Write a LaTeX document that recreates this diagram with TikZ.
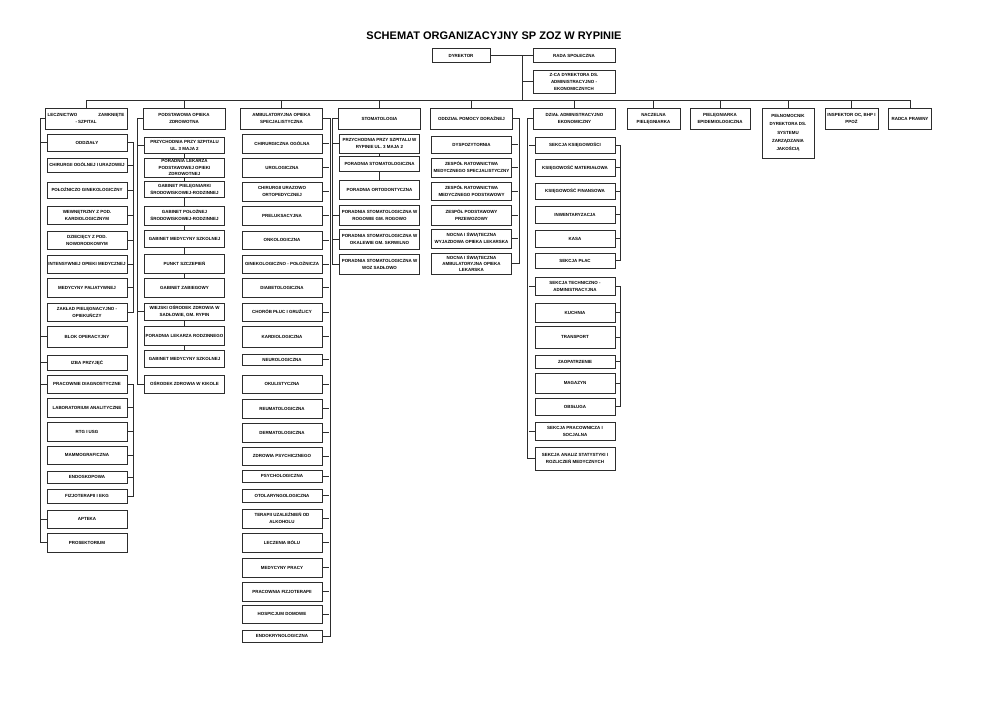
\documentclass[tikz,border=0pt]{standalone}
\usepackage{fontspec}
\setmainfont{Liberation Sans}
\definecolor{frame}{RGB}{45,45,45}

\begin{document}
\begin{tikzpicture}[x=0.3mm, y=-0.3mm,
  every node/.style={font=\fontsize{3.8}{6}\selectfont\bfseries, align=center, inner sep=0.5pt},
  box/.style={draw=frame, line width=0.5pt, minimum width=2.4cm},
  link/.style={draw=frame, line width=0.5pt}]
  \useasboundingbox[fill=white] (0,0) rectangle (992,702);

  % Title and management
  \node[font=\fontsize{9.4}{11}\selectfont\bfseries] (title) at (494,36) {SCHEMAT ORGANIZACYJNY SP ZOZ W RYPINIE};
  \node[box, minimum width=1.74cm, minimum height=4.2mm] (dyr) at (461,55.5) {DYREKTOR};
  \node[box, minimum width=2.46cm, minimum height=4.2mm] (rada) at (574,55.5) {RADA SPOŁECZNA};
  \node[box, minimum width=2.46cm, minimum height=6.9mm] (zca) at (574,81.5) {Z-CA DYREKTORA DS.\\ADMINISTRACYJNO -\\EKONOMICZNYCH};
  \coordinate (trunk) at (522,101);

  % Departments
  \node[box, minimum width=2.46cm, minimum height=6.3mm] (szpital) at (86,118.5) {\makebox[2.3cm]{LECZNICTWO\hfill ZAMKNIĘTE}\\- SZPITAL};
  \node[box, minimum width=2.46cm, minimum height=6.3mm] (poz) at (184,118.5) {PODSTAWOWA OPIEKA\\ZDROWOTNA};
  \node[box, minimum width=2.46cm, minimum height=6.3mm] (aos) at (281.5,118.5) {AMBULATORYJNA OPIEKA\\SPECJALISTYCZNA};
  \node[box, minimum width=2.46cm, minimum height=6.3mm] (stom) at (379.5,118.5) {STOMATOLOGIA};
  \node[box, minimum width=2.46cm, minimum height=6.3mm] (dorazna) at (471.5,118.5) {ODDZIAŁ POMOCY DORAŹNEJ};
  \node[box, minimum width=2.46cm, minimum height=6.3mm] (admin) at (574.5,118.5) {DZIAŁ ADMINISTRACYJNO\\EKONOMICZNY};
  \node[box, minimum width=1.59cm, minimum height=6.3mm] (naczelna) at (653.5,118.5) {NACZELNA\\PIELĘGNIARKA};
  \node[box, minimum width=1.8cm, minimum height=6.3mm] (epid) at (720,118.5) {PIELĘGNIARKA\\EPIDEMIOLOGICZNA};
  \node[box, minimum width=1.56cm, minimum height=15mm, font=\fontsize{3.8}{7.2}\selectfont\bfseries] (jakosc) at (788,133) {PEŁNOMOCNIK\\DYREKTORA DS.\\SYSTEMU\\ZARZĄDZANIA\\JAKOŚCIĄ};
  \node[box, minimum width=1.59cm, minimum height=6.3mm] (bhp) at (851.5,118.5) {INSPEKTOR OC, BHP I\\PPOŻ};
  \node[box, minimum width=1.3cm, minimum height=6.3mm] (radca) at (910,118.5) {RADCA PRAWNY};

  % Lecznictwo zamkniete
  \node[box, minimum height=5.1mm] (s1) at (87,142.5) {ODDZIAŁY};
  \node[box, minimum height=4.2mm] (s2) at (87,165) {CHIRURGII OGÓLNEJ I URAZOWEJ};
  \node[box, minimum height=4.8mm] (s3) at (87,190) {POŁOŻNICZO GINEKOLOGICZNY};
  \node[box, minimum height=5.4mm] (s4) at (87,215) {WEWNĘTRZNY Z POD.\\KARDIOLOGICZNYM};
  \node[box, minimum height=5.4mm] (s5) at (87,240) {DZIECIĘCY Z POD.\\NOWORODKOWYM};
  \node[box, minimum height=5.4mm] (s6) at (87,264) {INTENSYWNEJ OPIEKI MEDYCZNEJ};
  \node[box, minimum height=5.7mm] (s7) at (87,287.5) {MEDYCYNY PALIATYWNEJ};
  \node[box, minimum height=5.4mm] (s8) at (87,312) {ZAKŁAD PIELĘGNACYJNO -\\OPIEKUŃCZY};
  \node[box, minimum height=6.3mm] (s9) at (87,336.5) {BLOK OPERACYJNY};
  \node[box, minimum height=4.5mm] (s10) at (87,362.5) {IZBA PRZYJĘĆ};
  \node[box, minimum height=5.4mm] (s11) at (87,384) {PRACOWNIE DIAGNOSTYCZNE};
  \node[box, minimum height=5.7mm] (s12) at (87,407.5) {LABORATORIUM ANALITYCZNE};
  \node[box, minimum height=5.7mm] (s13) at (87,431.5) {RTG I USG};
  \node[box, minimum height=5.4mm] (s14) at (87,455) {MAMMOGRAFICZNA};
  \node[box, minimum height=3.6mm] (s15) at (87,477) {ENDOSKOPOWA};
  \node[box, minimum height=4.2mm] (s16) at (87,496) {FIZJOTERAPII I EKG};
  \node[box, minimum height=5.4mm] (s17) at (87,519) {APTEKA};
  \node[box, minimum height=5.7mm] (s18) at (87,542.5) {PROSEKTORIUM};

  % Podstawowa opieka zdrowotna
  \node[box, minimum height=4.8mm] (p1) at (184.5,145) {PRZYCHODNIA PRZY SZPITALU\\UL. 3 MAJA 2};
  \node[box, minimum height=5.7mm, font=\fontsize{3.8}{5.2}\selectfont\bfseries] (p2) at (184.5,167.5) {PORADNIA LEKARZA\\PODSTAWOWEJ OPIEKI\\ZDROWOTNEJ};
  \node[box, minimum height=4.8mm] (p3) at (184.5,189) {GABINET PIELĘGNIARKI\\ŚRODOWISKOWEJ-RODZINNEJ};
  \node[box, minimum height=5.7mm] (p4) at (184.5,215.5) {GABINET POŁOŻNEJ\\ŚRODOWISKOWEJ-RODZINNEJ};
  \node[box, minimum height=5.1mm] (p5) at (184.5,238.5) {GABINET MEDYCYNY SZKOLNEJ};
  \node[box, minimum height=5.7mm] (p6) at (184.5,263.5) {PUNKT SZCZEPIEŃ};
  \node[box, minimum height=5.7mm] (p7) at (184.5,287.5) {GABINET ZABIEGOWY};
  \node[box, minimum height=5.1mm] (p8) at (184.5,311.5) {WIEJSKI OŚRODEK ZDROWIA W\\SADŁOWIE, GM. RYPIN};
  \node[box, minimum height=5.7mm] (p9) at (184.5,335.5) {PORADNIA LEKARZA RODZINNEGO};
  \node[box, minimum height=5.1mm] (p10) at (184.5,358.5) {GABINET MEDYCYNY SZKOLNEJ};
  \node[box, minimum height=5.4mm] (p11) at (184.5,384) {OŚRODEK ZDROWIA W KIKOLE};

  % Ambulatoryjna opieka specjalistyczna
  \node[box, minimum height=5.7mm] (a1) at (282,143.5) {CHIRURGICZNA OGÓLNA};
  \node[box, minimum height=5.7mm] (a2) at (282,167.5) {UROLOGICZNA};
  \node[box, minimum height=5.7mm] (a3) at (282,191.5) {CHIRURGII URAZOWO\\ORTOPEDYCZNEJ};
  \node[box, minimum height=5.7mm] (a4) at (282,215.5) {PRELUKSACYJNA};
  \node[box, minimum height=5.4mm] (a5) at (282,240) {ONKOLOGICZNA};
  \node[box, minimum height=5.4mm] (a6) at (282,264) {GINEKOLOGICZNO - POŁOŻNICZA};
  \node[box, minimum height=5.7mm] (a7) at (282,287.5) {DIABETOLOGICZNA};
  \node[box, minimum height=5.4mm] (a8) at (282,312) {CHORÓB PŁUC I GRUŹLICY};
  \node[box, minimum height=6.3mm] (a9) at (282,336.5) {KARDIOLOGICZNA};
  \node[box, minimum height=3.3mm] (a10) at (282,359.5) {NEUROLOGICZNA};
  \node[box, minimum height=5.4mm] (a11) at (282,384) {OKULISTYCZNA};
  \node[box, minimum height=5.7mm] (a12) at (282,408.5) {REUMATOLOGICZNA};
  \node[box, minimum height=5.7mm] (a13) at (282,432.5) {DERMATOLOGICZNA};
  \node[box, minimum height=5.4mm] (a14) at (282,456) {ZDROWIA PSYCHICZNEGO};
  \node[box, minimum height=3.6mm] (a15) at (282,476) {PSYCHOLOGICZNA};
  \node[box, minimum height=3.9mm] (a16) at (282,495.5) {OTOLARYNGOLOGICZNA};
  \node[box, minimum height=5.7mm] (a17) at (282,518.5) {TERAPII UZALEŻNIEŃ OD\\ALKOHOLU};
  \node[box, minimum height=5.7mm] (a18) at (282,542.5) {LECZENIA BÓLU};
  \node[box, minimum height=5.7mm] (a19) at (282,567.5) {MEDYCYNY PRACY};
  \node[box, minimum height=5.7mm] (a20) at (282,591.5) {PRACOWNIA FIZJOTERAPII};
  \node[box, minimum height=5.4mm] (a21) at (282,614) {HOSPICJUM DOMOWE};
  \node[box, minimum height=3.6mm] (a22) at (282,636) {ENDOKRYNOLOGICZNA};

  % Stomatologia
  \node[box, minimum height=5.7mm] (st1) at (379.5,143.5) {PRZYCHODNIA PRZY SZPITALU W\\RYPINIE UL. 3 MAJA 2};
  \node[box, minimum height=4.5mm] (st2) at (379.5,163.5) {PORADNIA STOMATOLOGICZNA};
  \node[box, minimum height=5.7mm] (st3) at (379.5,189.5) {PORADNIA ORTODONTYCZNA};
  \node[box, minimum height=6mm] (st4) at (379.5,215) {PORADNIA STOMATOLOGICZNA W\\ROGOWIE GM. ROGOWO};
  \node[box, minimum height=6mm] (st5) at (379.5,239) {PORADNIA STOMATOLOGICZNA W\\OKALEWIE GM. SKRWILNO};
  \node[box, minimum height=6mm] (st6) at (379.5,264) {PORADNIA STOMATOLOGICZNA W\\WOZ SADŁOWO};

  % Oddzial pomocy doraznej
  \node[box, minimum height=5.1mm] (d1) at (471.5,144.5) {DYSPOZYTORNIA};
  \node[box, minimum height=5.7mm] (d2) at (471.5,167.5) {ZESPÓŁ RATOWNICTWA\\MEDYCZNEGO SPECJALISTYCZNY};
  \node[box, minimum height=5.4mm] (d3) at (471.5,191) {ZESPÓŁ RATOWNICTWA\\MEDYCZNEGO PODSTAWOWY};
  \node[box, minimum height=6mm] (d4) at (471.5,215) {ZESPÓŁ PODSTAWOWY\\PRZEWOZOWY};
  \node[box, minimum height=5.7mm] (d5) at (471.5,238.5) {NOCNA I ŚWIĄTECZNA\\WYJAZDOWA OPIEKA LEKARSKA};
  \node[box, minimum height=6.3mm, font=\fontsize{3.8}{5.4}\selectfont\bfseries] (d6) at (471.5,263.5) {NOCNA I ŚWIĄTECZNA\\AMBULATORYJNA OPIEKA\\LEKARSKA};

  % Dzial administracyjno-ekonomiczny
  \node[box, minimum height=4.8mm] (e1) at (575,145) {SEKCJA KSIĘGOWOŚCI};
  \node[box, minimum height=5.1mm] (e2) at (575,167.5) {KSIĘGOWOŚĆ MATERIAŁOWA};
  \node[box, minimum height=4.8mm] (e3) at (575,191) {KSIĘGOWOŚĆ FINANSOWA};
  \node[box, minimum height=5.1mm] (e4) at (575,214.5) {INWENTARYZACJA};
  \node[box, minimum height=5.1mm] (e5) at (575,238.5) {KASA};
  \node[box, minimum height=4.5mm] (e6) at (575,260.5) {SEKCJA PŁAC};
  \node[box, minimum height=5.4mm] (e7) at (575,286) {SEKCJA TECHNICZNO -\\ADMINISTRACYJNA};
  \node[box, minimum height=5.7mm] (e8) at (575,312.5) {KUCHNIA};
  \node[box, minimum height=6.6mm] (e9) at (575,337) {TRANSPORT};
  \node[box, minimum height=3.9mm] (e10) at (575,361.5) {ZAOPATRZENIE};
  \node[box, minimum height=6mm] (e11) at (575,383) {MAGAZYN};
  \node[box, minimum height=5.1mm] (e12) at (575,406.5) {OBSŁUGA};
  \node[box, minimum height=5.4mm] (e13) at (575,431) {SEKCJA PRACOWNICZA I\\SOCJALNA};
  \node[box, minimum height=6.9mm] (e14) at (575,458.5) {SEKCJA ANALIZ STATYSTYKI I\\ROZLICZEŃ MEDYCZNYCH};

  % Connectors: management
  \draw[link] (dyr) -- (rada);
  \draw[link] (trunk) -- (trunk |- dyr.east);
  \draw[link] (trunk |- zca.west) -- (zca.west);
  \draw[link] (szpital.north) -- ++(0,-7) -| (radca.north);
  \draw[link] (poz.north) -- ++(0,-7) (aos.north) -- ++(0,-7) (stom.north) -- ++(0,-7)
    (dorazna.north) -- ++(0,-7) (admin.north) -- ++(0,-7) (naczelna.north) -- ++(0,-7)
    (epid.north) -- ++(0,-7) (jakosc.north) -- ++(0,-7) (bhp.north) -- ++(0,-7);

  % Connectors: lecznictwo zamkniete
  \draw[link] (szpital.west) -- ++(-4,0) |- (s18.west);
  \draw[link] (s1.west) -- ++(-6,0) (s9.west) -- ++(-6,0) (s10.west) -- ++(-6,0)
    (s11.west) -- ++(-6,0) (s17.west) -- ++(-6,0);
  \draw[link] (s1.east) -- ++(6,0) |- (s8.east);
  \draw[link] (s2.east) -- ++(6,0) (s3.east) -- ++(6,0) (s4.east) -- ++(6,0)
    (s5.east) -- ++(6,0) (s6.east) -- ++(6,0) (s7.east) -- ++(6,0);
  \draw[link] (s11.east) -- ++(6,0) |- (s16.east);
  \draw[link] (s12.east) -- ++(6,0) (s13.east) -- ++(6,0) (s14.east) -- ++(6,0)
    (s15.east) -- ++(6,0);

  % Connectors: podstawowa opieka zdrowotna
  \draw[link] (poz.west) -- ++(-5,0) |- (p11.west);
  \draw[link] (p1.west) -- ++(-6,0) (p8.west) -- ++(-6,0);
  \draw[link] (p1) -- (p2) (p2) -- (p3) (p3) -- (p4) (p4) -- (p5) (p5) -- (p6) (p6) -- (p7);
  \draw[link] (p8) -- (p9) (p9) -- (p10);

  % Connectors: ambulatoryjna opieka specjalistyczna
  \draw[link] (aos.east) -- ++(7.5,0) |- (a22.east);
  \draw[link] (a1.east) -- ++(7,0) (a2.east) -- ++(7,0) (a3.east) -- ++(7,0)
    (a4.east) -- ++(7,0) (a5.east) -- ++(7,0) (a6.east) -- ++(7,0) (a7.east) -- ++(7,0)
    (a8.east) -- ++(7,0) (a9.east) -- ++(7,0) (a10.east) -- ++(7,0) (a11.east) -- ++(7,0)
    (a12.east) -- ++(7,0) (a13.east) -- ++(7,0) (a14.east) -- ++(7,0) (a15.east) -- ++(7,0)
    (a16.east) -- ++(7,0) (a17.east) -- ++(7,0) (a18.east) -- ++(7,0) (a19.east) -- ++(7,0)
    (a20.east) -- ++(7,0) (a21.east) -- ++(7,0);

  % Connectors: stomatologia
  \draw[link] (stom.west) -- ++(-6,0) |- (st6.west);
  \draw[link] (st1.west) -- ++(-6,0) (st4.west) -- ++(-6,0) (st5.west) -- ++(-6,0);
  \draw[link] (st1) -- (st2) (st2) -- (st3);

  % Connectors: oddzial pomocy doraznej
  \draw[link] (dorazna.east) -- ++(6.5,0) |- (d6.east);
  \draw[link] (d1.east) -- ++(6.5,0) (d2.east) -- ++(6.5,0) (d3.east) -- ++(6.5,0)
    (d4.east) -- ++(6.5,0) (d5.east) -- ++(6.5,0);

  % Connectors: dzial administracyjno-ekonomiczny
  \draw[link] (admin.west) -- ++(-5.5,0) |- (e14.west);
  \draw[link] (e1.west) -- ++(-6,0) (e7.west) -- ++(-6,0) (e13.west) -- ++(-6,0);
  \draw[link] (e1.east) -- ++(5,0) |- (e6.east);
  \draw[link] (e2.east) -- ++(5,0) (e3.east) -- ++(5,0) (e4.east) -- ++(5,0) (e5.east) -- ++(5,0);
  \draw[link] (e7.east) -- ++(5,0) |- (e12.east);
  \draw[link] (e8.east) -- ++(5,0) (e9.east) -- ++(5,0) (e10.east) -- ++(5,0) (e11.east) -- ++(5,0);
\end{tikzpicture}
\end{document}
